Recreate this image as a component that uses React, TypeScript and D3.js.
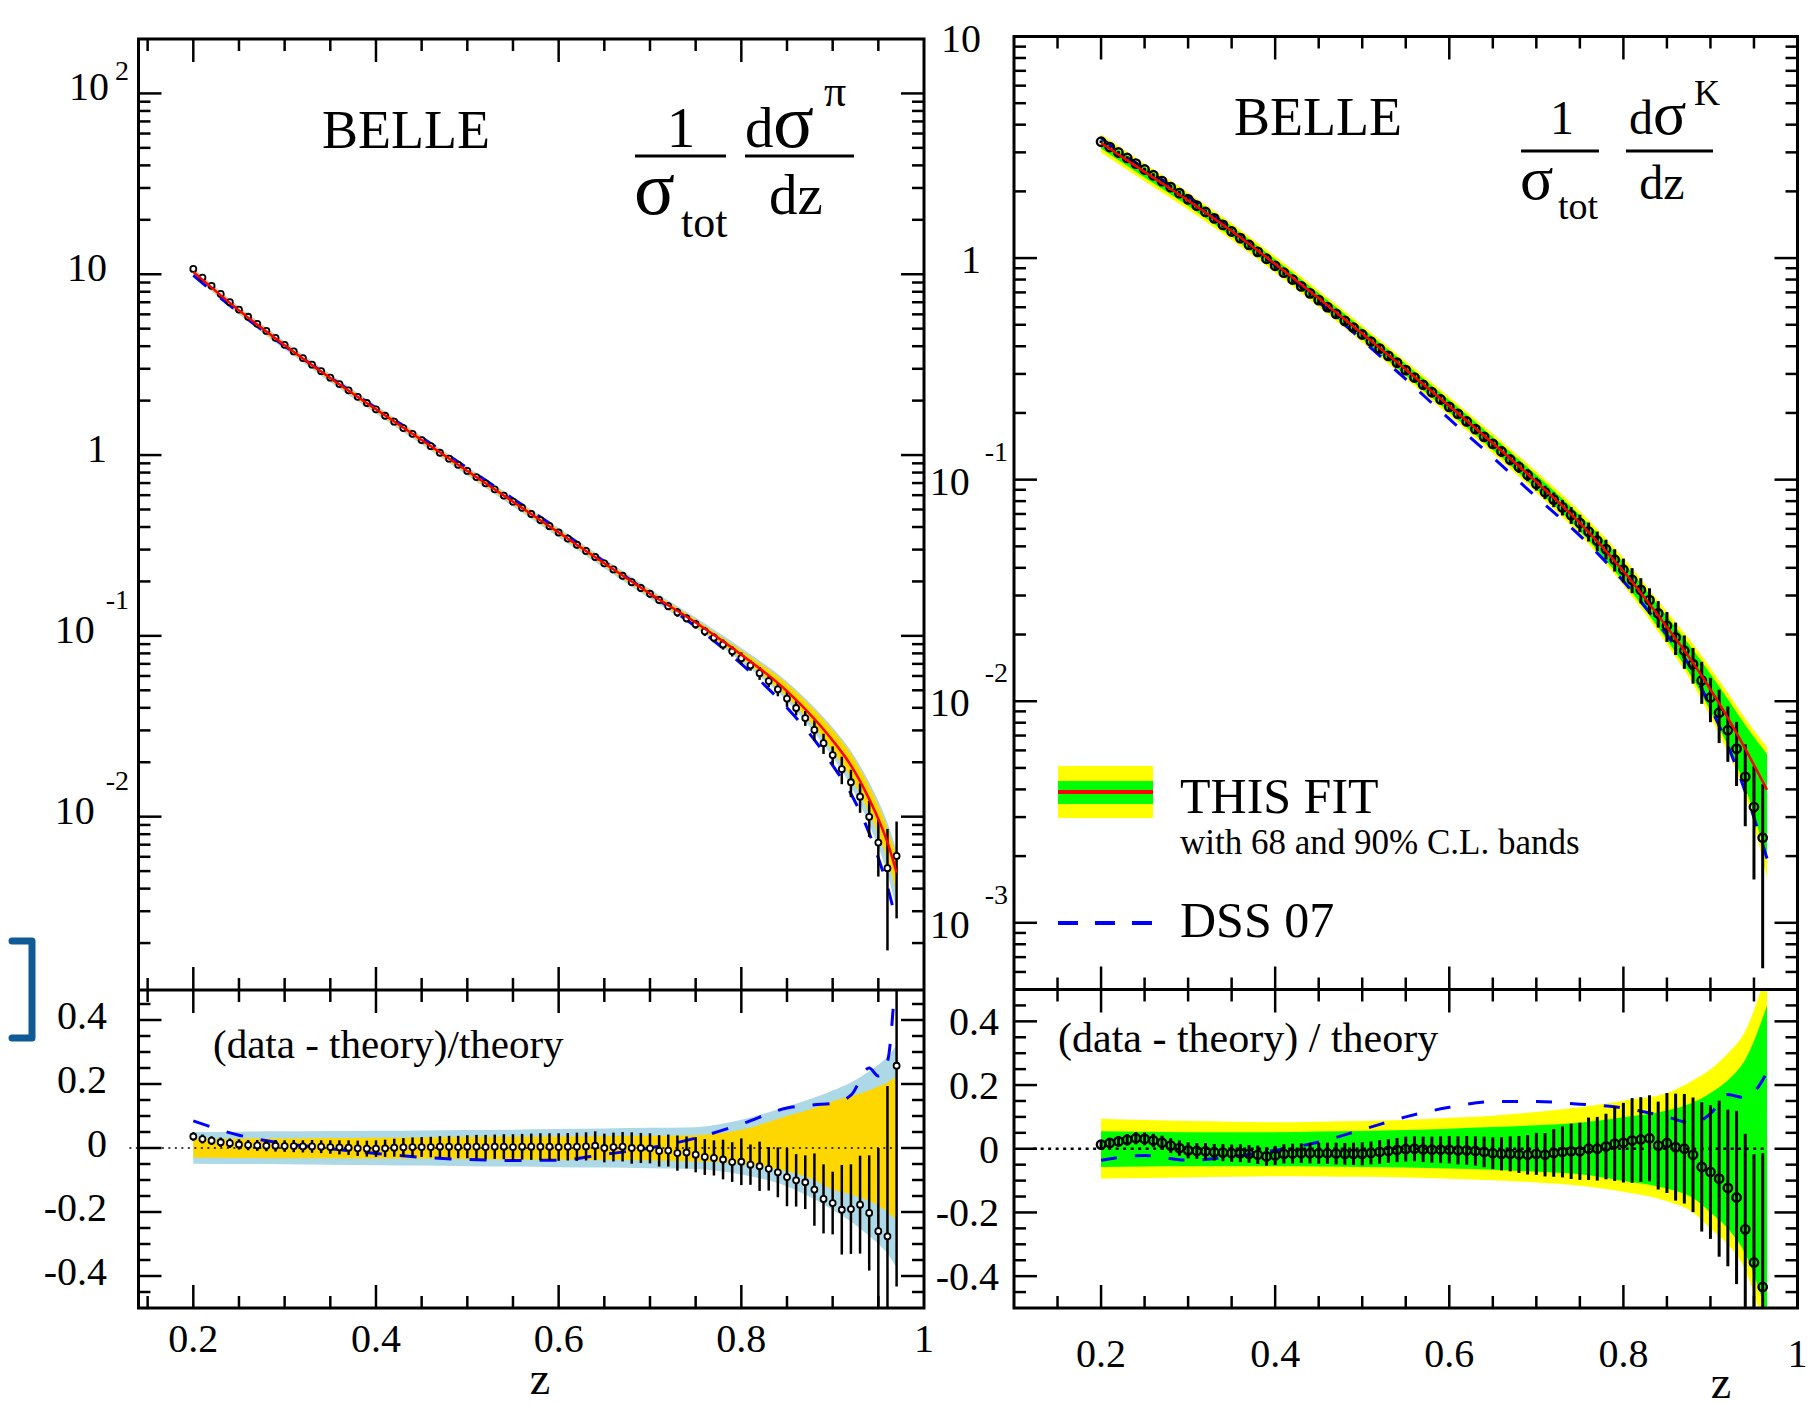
import React from "react";
import * as d3 from "d3";

// ---------- pion (left) data, one point per z bin ----------
const zPion = [
  0.2, 0.21, 0.22, 0.23, 0.24, 0.25, 0.26, 0.27, 0.28, 0.29,
  0.3, 0.31, 0.32, 0.33, 0.34, 0.35, 0.36, 0.37, 0.38, 0.39,
  0.4, 0.41, 0.42, 0.43, 0.44, 0.45, 0.46, 0.47, 0.48, 0.49,
  0.5, 0.51, 0.52, 0.53, 0.54, 0.55, 0.56, 0.57, 0.58, 0.59,
  0.6, 0.61, 0.62, 0.63, 0.64, 0.65, 0.66, 0.67, 0.68, 0.69,
  0.7, 0.71, 0.72, 0.73, 0.74, 0.75, 0.76, 0.77, 0.78, 0.79,
  0.8, 0.81, 0.82, 0.83, 0.84, 0.85, 0.86, 0.87, 0.88, 0.89,
  0.9, 0.91, 0.92, 0.93, 0.94, 0.95, 0.96, 0.97,
];
const piData = [
  10.7, 9.59, 8.63, 7.78, 7.01, 6.38, 5.82, 5.32, 4.86, 4.45,
  4.07, 3.74, 3.44, 3.16, 2.91, 2.68, 2.47, 2.28, 2.1, 1.94,
  1.79, 1.65, 1.53, 1.41, 1.31, 1.21, 1.12, 1.03, 0.955, 0.883,
  0.817, 0.755, 0.698, 0.646, 0.597, 0.552, 0.511, 0.472, 0.437, 0.404,
  0.373, 0.345, 0.319, 0.295, 0.273, 0.252, 0.233, 0.215, 0.198, 0.184,
  0.171, 0.158, 0.146, 0.135, 0.125, 0.116, 0.106, 0.0977, 0.0897, 0.0822,
  0.0753, 0.0687, 0.0622, 0.0562, 0.0506, 0.045, 0.0399, 0.0351, 0.0302, 0.0255,
  0.0219, 0.0183, 0.0155, 0.0129, 0.00998, 0.00719, 0.00519, 0.00607,
];
const piRatio = [
  0.036, 0.028, 0.023, 0.018, 0.015, 0.011, 0.009, 0.008, 0.007, 0.007,
  0.006, 0.006, 0.005, 0.005, 0.004, 0.003, 0.002, 0.001, -0.001, -0.002,
  -0.002, -0.001, 0.001, 0.002, 0.003, 0.003, 0.003, 0.004, 0.004, 0.003,
  0.004, 0.004, 0.003, 0.004, 0.004, 0.003, 0.004, 0.004, 0.004, 0.004,
  0.003, 0.004, 0.004, 0.005, 0.007, 0.0, 0.003, 0.004, 0.0, 0.0,
  -0.001, -0.009, -0.008, -0.016, -0.014, -0.021, -0.028, -0.031, -0.036, -0.044,
  -0.043, -0.052, -0.057, -0.065, -0.076, -0.091, -0.101, -0.107, -0.13, -0.159,
  -0.172, -0.193, -0.191, -0.177, -0.203, -0.26, -0.276, 0.257,
];
const piErr = [
  0.013, 0.014, 0.014, 0.015, 0.015, 0.016, 0.016, 0.017, 0.017, 0.018,
  0.018, 0.019, 0.019, 0.02, 0.02, 0.021, 0.022, 0.023, 0.024, 0.025,
  0.026, 0.027, 0.028, 0.029, 0.03, 0.031, 0.032, 0.033, 0.034, 0.035,
  0.036, 0.037, 0.038, 0.038, 0.039, 0.04, 0.04, 0.041, 0.042, 0.042,
  0.043, 0.043, 0.044, 0.044, 0.045, 0.045, 0.045, 0.046, 0.049, 0.047,
  0.047, 0.049, 0.05, 0.055, 0.05, 0.055, 0.056, 0.055, 0.062, 0.062,
  0.073, 0.063, 0.077, 0.068, 0.078, 0.091, 0.082, 0.084, 0.113, 0.108,
  0.098, 0.14, 0.14, 0.153, 0.18, 0.26, 0.47, 0.69,
];

// pion fit, bands (relative to fit) and DSS07 on a coarser z grid
const piGrid = [0.2, 0.25, 0.3, 0.35, 0.4, 0.45, 0.5, 0.55, 0.6, 0.65, 0.7, 0.75, 0.8, 0.85, 0.88, 0.9, 0.92, 0.94, 0.95, 0.96, 0.97];
const piTheory = [10.3, 6.31, 4.05, 2.67, 1.79, 1.21, 0.817, 0.552, 0.373, 0.252, 0.171, 0.1185, 0.0787, 0.0495, 0.0347, 0.0264, 0.0192, 0.0125, 0.0097, 0.0072, 0.0049];
const piDss = [9.86, 6.13, 4.01, 2.69, 1.82, 1.25, 0.848, 0.574, 0.388, 0.257, 0.171, 0.1125, 0.07, 0.04, 0.0266, 0.0192, 0.0134, 0.0081, 0.0059, 0.0041, 0.0026];
const piDssRatio = [0.085, 0.04, 0.014, -0.002, -0.017, -0.029, -0.036, -0.039, -0.038, -0.02, 0.0, 0.031, 0.075, 0.125, 0.135, 0.14, 0.165, 0.25, 0.225, 0.27, 0.6];
const piOuterHi = [0.05, 0.051, 0.052, 0.053, 0.054, 0.055, 0.056, 0.057, 0.059, 0.061, 0.063, 0.065, 0.088, 0.13, 0.158, 0.18, 0.205, 0.24, 0.26, 0.285, 0.32];
const piOuterLo = [-0.049, -0.05, -0.051, -0.052, -0.054, -0.055, -0.057, -0.058, -0.06, -0.061, -0.063, -0.066, -0.083, -0.12, -0.16, -0.193, -0.23, -0.275, -0.3, -0.33, -0.375];
const piInnerHi = [0.028, 0.029, 0.03, 0.031, 0.032, 0.033, 0.034, 0.035, 0.036, 0.037, 0.038, 0.04, 0.057, 0.1, 0.125, 0.146, 0.163, 0.18, 0.192, 0.205, 0.225];
const piInnerLo = [-0.03, -0.031, -0.032, -0.032, -0.033, -0.033, -0.034, -0.035, -0.036, -0.037, -0.039, -0.042, -0.049, -0.073, -0.1, -0.13, -0.145, -0.165, -0.18, -0.2, -0.225];

// ---------- kaon (right) data ----------
const zKaon = [
  0.2, 0.21, 0.22, 0.23, 0.24, 0.25, 0.26, 0.27, 0.28, 0.29,
  0.3, 0.31, 0.32, 0.33, 0.34, 0.35, 0.36, 0.37, 0.38, 0.39,
  0.4, 0.41, 0.42, 0.43, 0.44, 0.45, 0.46, 0.47, 0.48, 0.49,
  0.5, 0.51, 0.52, 0.53, 0.54, 0.55, 0.56, 0.57, 0.58, 0.59,
  0.6, 0.61, 0.62, 0.63, 0.64, 0.65, 0.66, 0.67, 0.68, 0.69,
  0.7, 0.71, 0.72, 0.73, 0.74, 0.75, 0.76, 0.77, 0.78, 0.79,
  0.8, 0.81, 0.82, 0.83, 0.84, 0.85, 0.86, 0.87, 0.88, 0.89,
  0.9, 0.91, 0.92, 0.93, 0.94, 0.95, 0.96,
];
const kaData = [
  3.35, 3.17, 2.995, 2.83, 2.67, 2.51, 2.365, 2.225, 2.09, 1.963,
  1.841, 1.725, 1.615, 1.511, 1.412, 1.318, 1.23, 1.146, 1.067, 0.993,
  0.923, 0.859, 0.8, 0.745, 0.693, 0.646, 0.601, 0.56, 0.521, 0.485,
  0.452, 0.42, 0.39, 0.362, 0.337, 0.312, 0.289, 0.268, 0.248, 0.23,
  0.213, 0.198, 0.183, 0.169, 0.156, 0.145, 0.134, 0.123, 0.114, 0.105,
  0.0957, 0.0877, 0.0813, 0.075, 0.0692, 0.0637, 0.0583, 0.053, 0.0486, 0.0435,
  0.0392, 0.0353, 0.0318, 0.0286, 0.0249, 0.0219, 0.0194, 0.0169, 0.0147, 0.0124,
  0.0104, 0.00887, 0.0074, 0.00611, 0.00456, 0.00333, 0.00242,
];
const kaRatio = [
  0.013, 0.018, 0.023, 0.028, 0.033, 0.031, 0.026, 0.019, 0.01, 0.002,
  -0.005, -0.007, -0.008, -0.011, -0.012, -0.014, -0.014, -0.016, -0.019, -0.024,
  -0.021, -0.016, -0.015, -0.014, -0.014, -0.014, -0.014, -0.015, -0.016, -0.016,
  -0.016, -0.013, -0.01, -0.007, -0.004, -0.001, 0.0, -0.002, -0.003, -0.003,
  -0.003, -0.005, -0.005, -0.007, -0.01, -0.014, -0.016, -0.016, -0.018, -0.019,
  -0.016, -0.019, -0.013, -0.01, -0.008, -0.008, 0.0, 0.0, 0.007, 0.016,
  0.019, 0.026, 0.029, 0.033, 0.01, 0.018, 0.005, 0.0, -0.019, -0.057,
  -0.073, -0.094, -0.123, -0.153, -0.253, -0.357, -0.434,
];
const kaErr = [
  0.012, 0.014, 0.016, 0.018, 0.019, 0.02, 0.021, 0.022, 0.023, 0.024,
  0.025, 0.025, 0.026, 0.026, 0.027, 0.027, 0.028, 0.028, 0.029, 0.029,
  0.03, 0.03, 0.031, 0.031, 0.032, 0.033, 0.033, 0.034, 0.034, 0.035,
  0.036, 0.036, 0.037, 0.037, 0.038, 0.039, 0.039, 0.04, 0.041, 0.042,
  0.043, 0.044, 0.045, 0.046, 0.048, 0.05, 0.052, 0.055, 0.058, 0.062,
  0.066, 0.068, 0.075, 0.08, 0.087, 0.09, 0.098, 0.1, 0.103, 0.117,
  0.125, 0.133, 0.133, 0.135, 0.138, 0.157, 0.168, 0.172, 0.18, 0.203,
  0.21, 0.245, 0.246, 0.272, 0.3, 0.34, 0.42,
];

const kaGrid = [0.2, 0.25, 0.3, 0.35, 0.4, 0.45, 0.5, 0.55, 0.6, 0.65, 0.7, 0.75, 0.8, 0.85, 0.88, 0.9, 0.92, 0.94, 0.965];
const kaTheory = [3.31, 2.449, 1.82, 1.324, 0.94, 0.658, 0.457, 0.314, 0.215, 0.146, 0.0977, 0.0638, 0.0386, 0.0216, 0.0149, 0.0113, 0.00841, 0.0061, 0.00398];
const kaDss = [3.48, 2.53, 1.9, 1.34, 0.928, 0.633, 0.426, 0.284, 0.188, 0.126, 0.0834, 0.0559, 0.0348, 0.0199, 0.0136, 0.0094, 0.0063, 0.0039, 0.00195];
const kaDssRatio = [-0.036, -0.021, -0.036, -0.025, -0.005, 0.021, 0.06, 0.1, 0.13, 0.148, 0.148, 0.14, 0.128, 0.1, 0.08, 0.11, 0.17, 0.16, 0.24];
const kaOuterHi = [0.094, 0.09, 0.087, 0.085, 0.083, 0.085, 0.087, 0.09, 0.097, 0.104, 0.115, 0.13, 0.151, 0.175, 0.215, 0.25, 0.3, 0.37, 0.56];
const kaInnerHi = [0.055, 0.053, 0.052, 0.052, 0.052, 0.054, 0.056, 0.059, 0.063, 0.068, 0.074, 0.082, 0.099, 0.12, 0.145, 0.175, 0.215, 0.28, 0.45];
const kaInnerLo = [-0.057, -0.056, -0.055, -0.055, -0.055, -0.056, -0.057, -0.059, -0.062, -0.066, -0.072, -0.08, -0.101, -0.125, -0.155, -0.2, -0.25, -0.33, -0.52];
const kaOuterLo = [-0.094, -0.092, -0.09, -0.088, -0.086, -0.087, -0.088, -0.09, -0.094, -0.099, -0.106, -0.116, -0.135, -0.165, -0.2, -0.25, -0.3, -0.38, -0.6];

// ---------- axis ticks ----------
const xMajor = [0.2, 0.4, 0.6, 0.8, 1];
const xMajorLabels = ["0.2", "0.4", "0.6", "0.8", "1"];
const xMinor = [0.1, 0.15, 0.25, 0.3, 0.35, 0.45, 0.5, 0.55, 0.65, 0.7, 0.75, 0.85, 0.9, 0.95];
const ratioMajor = [0.4, 0.2, 0, -0.2, -0.4];
const ratioLabels = ["0.4", "0.2", "0", "-0.2", "-0.4"];
const ratioMinor = [0.45, 0.35, 0.3, 0.25, 0.15, 0.1, 0.05, -0.05, -0.1, -0.15, -0.25, -0.3, -0.35, -0.45];
const piLogTicks = [100, 10, 1, 0.1, 0.01];
const piLogBase = ["10", "10", "1", "10", "10"];
const piLogExp = ["2", "", "", "-1", "-2"];
const kaLogTicks = [10, 1, 0.1, 0.01, 0.001];
const kaLogBase = ["10", "1", "10", "10", "10"];
const kaLogExp = ["", "", "-1", "-2", "-3"];

const SERIF = "'Liberation Serif', 'Times New Roman', Times, serif";

function Panel(p: any) {
  const x = d3.scaleLinear().domain(p.xDomain).range([p.left, p.right]);
  const yM = d3.scaleLog().domain(p.mainDomain).range([p.div, p.top]);
  const yR = d3.scaleLinear().domain([-0.5, 0.5]).range([p.bottom, p.ratioTop]);

  const grid = p.grid.map((z: number, i: number) => ({
    z,
    t: p.theory[i],
    dss: p.dss[i],
    dr: p.dssRatio[i],
    oLo: p.outerLo[i],
    oHi: p.outerHi[i],
    iLo: p.innerLo[i],
    iHi: p.innerHi[i],
  }));
  const pts = p.z.map((z: number, i: number) => {
    const v = p.data[i];
    const r = p.ratio[i];
    const e = p.err[i];
    const abs = (e * v) / (1 + r);
    return { z, v, r, e, lo: v - abs, hi: v + abs };
  });

  const cm = d3.curveMonotoneX;
  const mainArea = (lo: string, hi: string) =>
    d3.area<any>().x((d) => x(d.z)).y0((d) => yM(d.t * (1 + d[lo]))).y1((d) => yM(d.t * (1 + d[hi]))).curve(cm)(grid) as string;
  const ratioArea = (lo: string, hi: string) =>
    d3.area<any>().x((d) => x(d.z)).y0((d) => yR(d[lo])).y1((d) => yR(d[hi])).curve(cm)(grid) as string;
  const theoryLine = d3.line<any>().x((d) => x(d.z)).y((d) => yM(d.t)).curve(cm)(grid) as string;
  const dssLine = d3.line<any>().x((d) => x(d.z)).y((d) => yM(d.dss)).curve(cm)(grid) as string;
  const dssRatioLine = d3.line<any>().x((d) => x(d.z)).y((d) => yR(d.dr)).curve(cm)(grid) as string;

  // ticks on all four sides of both panels
  const TL = 23;
  const TS = 12;
  const tk: number[][] = [];
  const eps = 1e-6;
  const inside = (v: number) => v > p.xDomain[0] + eps && v < p.xDomain[1] - eps;
  const xt = [...xMajor.filter(inside).map((v) => [v, TL]), ...xMinor.filter(inside).map((v) => [v, TS])];
  xt.forEach(([v, L]) => {
    const X = x(v);
    tk.push([X, p.top, X, p.top + L]);
    tk.push([X, p.div, X, p.div - L]);
    tk.push([X, p.div, X, p.div + L]);
    tk.push([X, p.bottom, X, p.bottom - L]);
  });
  const [lo, hi] = p.mainDomain;
  const yt: number[][] = [];
  for (let n = -4; n <= 2; n++) {
    for (let k = 1; k <= 9; k++) {
      const v = k * Math.pow(10, n);
      if (v > lo * 1.0001 && v < hi * 0.9999) yt.push([yM(v), k === 1 ? TL : TS]);
    }
  }
  ratioMajor.forEach((v) => yt.push([yR(v), TL]));
  ratioMinor.forEach((v) => yt.push([yR(v), TS]));
  yt.forEach(([Y, L]) => {
    tk.push([p.left, Y, p.left + L, Y]);
    tk.push([p.right, Y, p.right - L, Y]);
  });

  const id = p.id;
  return (
    <g>
      <defs>
        <clipPath id={id + "-main"}>
          <rect x={p.left} y={p.top} width={p.right - p.left} height={p.div - p.top} />
        </clipPath>
        <clipPath id={id + "-ratio"}>
          <rect x={p.left} y={p.div} width={p.right - p.left} height={p.bottom - p.div} />
        </clipPath>
      </defs>

      {/* main panel */}
      <g clipPath={`url(#${id}-main)`}>
        <path d={mainArea("oLo", "oHi")} fill={p.outerColor} />
        <path d={mainArea("iLo", "iHi")} fill={p.innerColor} />
        <path d={dssLine} fill="none" stroke="#0000ff" strokeWidth={3} strokeDasharray={p.dash} />
        {pts.map((d: any, i: number) => (
          <line key={"me" + i} x1={x(d.z)} x2={x(d.z)} y1={yM(d.lo)} y2={yM(d.hi)} stroke="#000" strokeWidth={p.ew} />
        ))}
        {pts.map((d: any, i: number) => (
          <circle key={"mc" + i} cx={x(d.z)} cy={yM(d.v)} r={p.r} fill={p.markerFill} stroke="#000" strokeWidth={p.msw} />
        ))}
        <path d={theoryLine} fill="none" stroke="#ff0000" strokeWidth={2.5} />
      </g>

      {/* ratio panel */}
      <g clipPath={`url(#${id}-ratio)`}>
        <path d={ratioArea("oLo", "oHi")} fill={p.outerColor} />
        <path d={ratioArea("iLo", "iHi")} fill={p.innerColor} />
        <path d={dssRatioLine} fill="none" stroke="#0000ff" strokeWidth={3} strokeDasharray={p.dash} />
        {pts.map((d: any, i: number) => (
          <line key={"re" + i} x1={x(d.z)} x2={x(d.z)} y1={yR(d.r - d.e)} y2={yR(d.r + d.e)} stroke="#000" strokeWidth={p.ew} />
        ))}
      </g>
      <line x1={x(p.zeroFrom)} x2={x(p.zeroTo)} y1={yR(0)} y2={yR(0)} stroke="#000" strokeWidth={p.zeroW} strokeDasharray={p.zeroDash} />
      <g clipPath={`url(#${id}-ratio)`}>
        {pts.map((d: any, i: number) => (
          <circle key={"rc" + i} cx={x(d.z)} cy={yR(d.r)} r={p.r} fill={p.markerFill} stroke="#000" strokeWidth={p.msw} />
        ))}
      </g>

      {/* frames and ticks */}
      <rect x={p.left} y={p.top} width={p.right - p.left} height={p.bottom - p.top} fill="none" stroke="#000" strokeWidth={3} />
      <line x1={p.left} x2={p.right} y1={p.div} y2={p.div} stroke="#000" strokeWidth={3} />
      {tk.map((t, i) => (
        <line key={"t" + i} x1={t[0]} y1={t[1]} x2={t[2]} y2={t[3]} stroke="#000" strokeWidth={2.5} />
      ))}

      {/* tick labels and texts */}
      <g fontFamily={SERIF} fill="#000">
        {p.logTicks.map((v: number, i: number) => {
          const exp = p.logExp[i];
          const Y = yM(v) + p.logOff;
          if (!exp)
            return (
              <text key={"ly" + i} x={p.plainEnd} y={Y} fontSize={40} textAnchor="end">
                {p.logBase[i]}
              </text>
            );
          const neg = exp.startsWith("-");
          return (
            <text key={"ly" + i} x={p.expEnd} y={Y} fontSize={40} textAnchor="end">
              {p.logBase[i]}
              <tspan dx={neg ? p.gapNeg : p.gapPos} dy={neg ? -34 : -20} fontSize={28}>
                {exp}
              </tspan>
            </text>
          );
        })}
        {ratioMajor.map((v, i) => (
          <text key={"ry" + i} x={p.ratioEnd} y={yR(v) + p.ratioOff} fontSize={40} textAnchor="end">
            {ratioLabels[i]}
          </text>
        ))}
        {xMajor.map((v, i) => (
          <text key={"xl" + i} x={x(v)} y={p.xLabelY} fontSize={40} textAnchor="middle">
            {xMajorLabels[i]}
          </text>
        ))}
        <text x={p.zX} y={p.zY} fontSize={46} textAnchor="middle">
          z
        </text>
        <text x={p.belleX} y={p.belleY} fontSize={54}>
          BELLE
        </text>
        <text x={p.ratioTextX} y={p.ratioTextY} fontSize={p.ratioTextSize}>
          {p.ratioText}
        </text>
      </g>
    </g>
  );
}

function Formula({ f }: any) {
  return (
    <g fontFamily={SERIF} fill="#000">
      <text x={f.oneX} y={f.topY} fontSize={f.size} textAnchor="middle">
        1
      </text>
      <line x1={f.bar1[0]} x2={f.bar1[1]} y1={f.barY} y2={f.barY} stroke="#000" strokeWidth={3} />
      <text x={f.sigX} y={f.botY} fontSize={f.sigSize}>
        σ
      </text>
      <text x={f.totX} y={f.totY} fontSize={f.subSize}>
        tot
      </text>
      <text x={f.dX} y={f.topY} fontSize={f.size}>
        d
      </text>
      <text x={f.dsX} y={f.topY} fontSize={f.sigSize}>
        σ
      </text>
      <text x={f.supX} y={f.supY} fontSize={f.supSize}>
        {f.sup}
      </text>
      <line x1={f.bar2[0]} x2={f.bar2[1]} y1={f.barY} y2={f.barY} stroke="#000" strokeWidth={3} />
      <text x={f.dzX} y={f.botY} fontSize={f.size} textAnchor="middle">
        dz
      </text>
    </g>
  );
}

export default function App() {
  return (
    <svg width={1809} height={1405} style={{ position: "absolute", left: 0, top: 0, background: "#fff" }}>
      <rect x={0} y={0} width={1809} height={1405} fill="#fff" />
      <Panel
        id="pi"
        xDomain={[0.14, 1]}
        left={138.5}
        right={924}
        top={39}
        div={990}
        ratioTop={988}
        bottom={1308}
        mainDomain={[1.1e-3, 200]}
        z={zPion}
        data={piData}
        ratio={piRatio}
        err={piErr}
        grid={piGrid}
        theory={piTheory}
        dss={piDss}
        dssRatio={piDssRatio}
        outerLo={piOuterLo}
        outerHi={piOuterHi}
        innerLo={piInnerLo}
        innerHi={piInnerHi}
        outerColor="#add8e6"
        innerColor="#ffd700"
        dash="17 18"
        r={3}
        msw={1.8}
        ew={2.5}
        markerFill="#fff"
        zeroFrom={0.13}
        zeroTo={0.968}
        zeroW={1.5}
        zeroDash="2 4.5"
        logTicks={piLogTicks}
        logBase={piLogBase}
        logExp={piLogExp}
        logOff={7}
        plainEnd={107}
        expEnd={129}
        gapNeg={11}
        gapPos={6}
        ratioEnd={107}
        ratioOff={9}
        xLabelY={1352}
        zX={540}
        zY={1394}
        belleX={322}
        belleY={148}
        ratioText="(data - theory)/theory"
        ratioTextX={213}
        ratioTextY={1058}
        ratioTextSize={41}
      />
      <Panel
        id="ka"
        xDomain={[0.1, 1]}
        left={1014}
        right={1797.5}
        top={36.5}
        div={989.5}
        ratioTop={989.5}
        bottom={1308}
        mainDomain={[5e-4, 10]}
        z={zKaon}
        data={kaData}
        ratio={kaRatio}
        err={kaErr}
        grid={kaGrid}
        theory={kaTheory}
        dss={kaDss}
        dssRatio={kaDssRatio}
        outerLo={kaOuterLo}
        outerHi={kaOuterHi}
        innerLo={kaInnerLo}
        innerHi={kaInnerHi}
        outerColor="#ffff00"
        innerColor="#00ff00"
        dash="16 18"
        r={4.2}
        msw={2.4}
        ew={3}
        markerFill="none"
        zeroFrom={0.122}
        zeroTo={0.963}
        zeroW={2.5}
        zeroDash="3 4.5"
        logTicks={kaLogTicks}
        logBase={kaLogBase}
        logExp={kaLogExp}
        logOff={15}
        plainEnd={981}
        expEnd={1008}
        gapNeg={15}
        gapPos={8}
        ratioEnd={999}
        ratioOff={14}
        xLabelY={1367}
        zX={1721}
        zY={1398}
        belleX={1234}
        belleY={135}
        ratioText="(data - theory) / theory"
        ratioTextX={1058}
        ratioTextY={1052}
        ratioTextSize={42}
      />

      <Formula
        f={{
          size: 57, sigSize: 76, subSize: 44, supSize: 44, sup: "π",
          oneX: 681, topY: 147, botY: 214, barY: 156,
          bar1: [635, 726], bar2: [745, 854],
          sigX: 634, totX: 681, totY: 237,
          dX: 745, dsX: 773, supX: 824, supY: 106, dzX: 796,
        }}
      />
      <Formula
        f={{
          size: 48, sigSize: 62, subSize: 38, supSize: 36, sup: "K",
          oneX: 1562, topY: 134, botY: 199, barY: 151,
          bar1: [1521, 1599], bar2: [1626, 1713],
          sigX: 1520, totX: 1558, totY: 219,
          dX: 1629, dsX: 1653, supX: 1694, supY: 105, dzX: 1662,
        }}
      />

      {/* legend */}
      <rect x={1058} y={766} width={95} height={52} fill="#ffff00" />
      <rect x={1058} y={781} width={95} height={23} fill="#00ff00" />
      <line x1={1058} x2={1153} y1={792} y2={792} stroke="#ff0000" strokeWidth={4} />
      <line x1={1058} x2={1153} y1={923} y2={923} stroke="#0000ff" strokeWidth={4} strokeDasharray="20 17" />
      <g fontFamily={SERIF} fill="#000">
        <text x={1180} y={813} fontSize={50}>THIS FIT</text>
        <text x={1180} y={854} fontSize={35}>with 68 and 90% C.L. bands</text>
        <text x={1180} y={937} fontSize={50}>DSS 07</text>
      </g>

      {/* stray bracket at far left */}
      <path d="M12,941 H32 V1038 H12" fill="none" stroke="#0f5b98" strokeWidth={7} strokeLinejoin="round" strokeLinecap="round" />
    </svg>
  );
}
